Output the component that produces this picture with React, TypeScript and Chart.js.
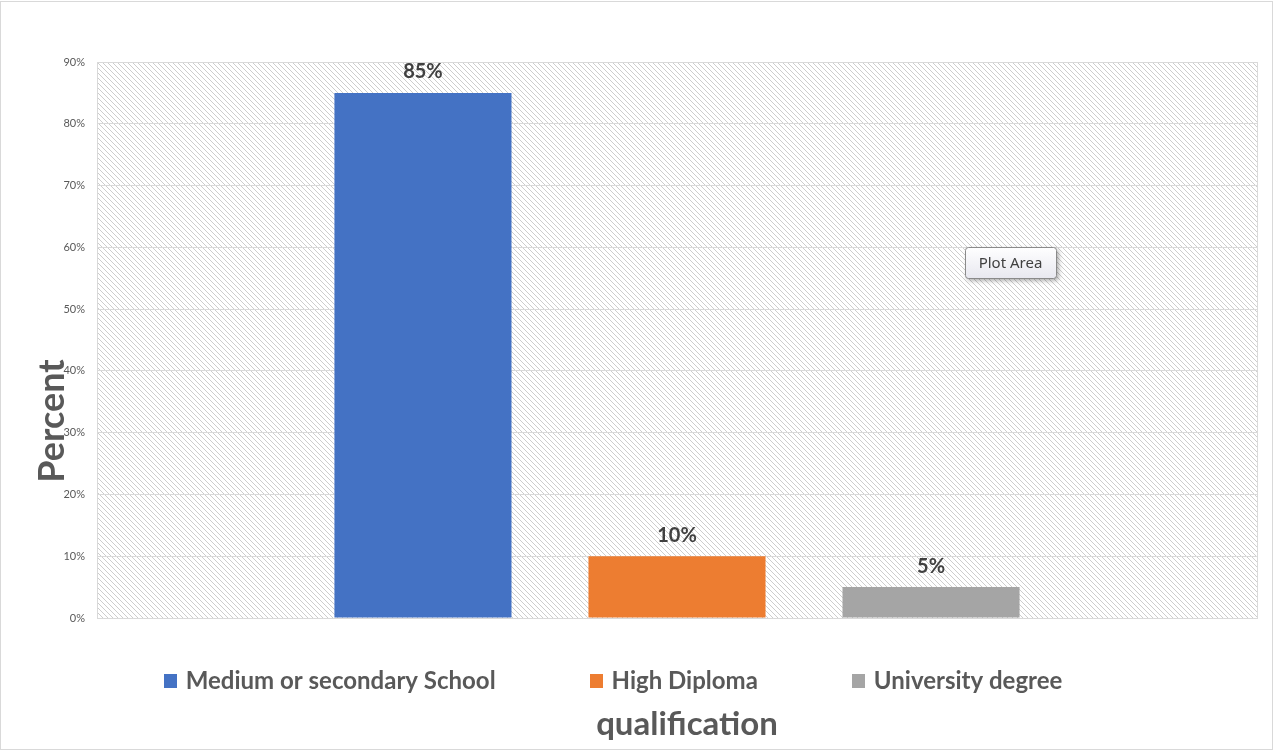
import React, { useEffect, useRef } from "react";
import { Chart, registerables } from "chart.js";

Chart.register(...registerables);

const categories: string[] = [""];
const seriesNames: string[] = ["Medium or secondary School", "High Diploma", "University degree"];
const seriesValues: number[] = [85, 10, 5];
const seriesColors: string[] = ["#4472C4", "#ED7D31", "#A5A5A5"];
const yTickValues: number[] = [0, 10, 20, 30, 40, 50, 60, 70, 80, 90];
const yTitle = "Percent";
const xTitle = "qualification";
const hoverNote = "Plot Area";

const FONT = "Lato, 'Open Sans', sans-serif";
const TEXT = "#595959";

function makeHatch(): CanvasPattern | string {
  const c = document.createElement("canvas");
  const n = 5;
  c.width = n;
  c.height = n;
  const g = c.getContext("2d");
  if (!g) return "#f0f0f0";
  g.fillStyle = "#ffffff";
  g.fillRect(0, 0, n, n);
  g.fillStyle = "#cdcdcd";
  for (let i = 0; i < n; i++) g.fillRect(i, i, 1, 1);
  const p = g.createPattern(c, "repeat");
  return p || "#f0f0f0";
}

const backgroundPlugin = {
  id: "bgHatch",
  beforeDraw(chart: any) {
    const { ctx, chartArea } = chart;
    ctx.save();
    ctx.fillStyle = "#ffffff";
    ctx.fillRect(0, 0, chart.width, chart.height);
    ctx.fillStyle = makeHatch();
    ctx.fillRect(chartArea.left, chartArea.top, chartArea.right - chartArea.left, chartArea.bottom - chartArea.top);
    ctx.restore();
  },
  afterDatasetsDraw(chart: any) {
    const { ctx, chartArea } = chart;
    ctx.save();
    ctx.strokeStyle = "#d9d9d9";
    ctx.lineWidth = 1;
    ctx.strokeRect(Math.round(chartArea.left) + 0.5, Math.round(chartArea.top) + 0.5,
      Math.round(chartArea.right - chartArea.left), Math.round(chartArea.bottom - chartArea.top));
    // data labels
    ctx.font = `bold 20px ${FONT}`;
    ctx.fillStyle = "#404040";
    ctx.textAlign = "center";
    ctx.textBaseline = "middle";
    chart.data.datasets.forEach((ds: any, i: number) => {
      const meta = chart.getDatasetMeta(i);
      meta.data.forEach((bar: any, j: number) => {
        ctx.fillText(`${ds.data[j]}%`, bar.x, bar.y - 21);
      });
    });
    ctx.restore();
  },
  afterDraw(chart: any) {
    const { ctx, chartArea } = chart;
    ctx.save();
    // outer frame
    ctx.strokeStyle = "#d9d9d9";
    ctx.lineWidth = 1;
    ctx.strokeRect(0.5, 1.5, chart.width - 2, chart.height - 4);

    // y title
    ctx.fillStyle = TEXT;
    ctx.font = `bold 36px ${FONT}`;
    ctx.textAlign = "center";
    ctx.textBaseline = "middle";
    ctx.translate(52, 421);
    ctx.rotate(-Math.PI / 2);
    ctx.fillText(yTitle, 0, 0);
    ctx.setTransform(1, 0, 0, 1, 0, 0);

    // legend
    ctx.font = `bold 24px ${FONT}`;
    ctx.textBaseline = "middle";
    ctx.textAlign = "left";
    const box = 13;
    const gapText = 9;
    const gapItem = 94;
    const widths = chart.data.datasets.map((d: any) => ctx.measureText(d.label).width);
    let total = 0;
    widths.forEach((w: number, i: number) => {
      total += box + gapText + w + (i < widths.length - 1 ? gapItem : 0);
    });
    let x = 613 - total / 2;
    const ly = 681;
    chart.data.datasets.forEach((d: any, i: number) => {
      ctx.fillStyle = d.backgroundColor;
      ctx.fillRect(Math.round(x), ly - 7, box, 14);
      ctx.fillStyle = TEXT;
      ctx.fillText(d.label, x + box + gapText, ly);
      x += box + gapText + widths[i] + gapItem;
    });

    // x title
    ctx.font = `bold 33px ${FONT}`;
    ctx.textAlign = "center";
    ctx.textBaseline = "middle";
    ctx.fillStyle = TEXT;
    ctx.fillText(xTitle, (chartArea.left + chartArea.right) / 2 + 10, 724);

    // hover note box
    const bx = 965, by = 247, bw = 91, bh = 31;
    ctx.shadowColor = "rgba(0,0,0,0.35)";
    ctx.shadowBlur = 4;
    ctx.shadowOffsetX = 2;
    ctx.shadowOffsetY = 2;
    const grad = ctx.createLinearGradient(0, by, 0, by + bh);
    grad.addColorStop(0, "#ffffff");
    grad.addColorStop(1, "#e8e8f0");
    ctx.fillStyle = grad;
    ctx.beginPath();
    ctx.roundRect(bx + 0.5, by + 0.5, bw, bh, 3);
    ctx.fill();
    ctx.shadowColor = "transparent";
    ctx.strokeStyle = "#8a8a8a";
    ctx.stroke();
    ctx.fillStyle = "#404040";
    ctx.font = `15px 'Noto Sans', sans-serif`;
    ctx.textAlign = "center";
    ctx.fillText(hoverNote, bx + bw / 2, by + bh / 2 + 1);
    ctx.restore();
  },
};

export default function App() {
  const ref = useRef<HTMLCanvasElement | null>(null);
  useEffect(() => {
    if (!ref.current) return;
    const chart = new Chart(ref.current, {
      type: "bar",
      data: {
        labels: categories,
        datasets: seriesNames.map((name, i) => ({
          label: name,
          data: [seriesValues[i]],
          backgroundColor: seriesColors[i],
          borderWidth: 0,
          categoryPercentage: 0.657,
          barPercentage: 0.697,
        })),
      },
      options: {
        animation: false,
        responsive: false,
        layout: { padding: { top: 62, left: 0, right: 17, bottom: 134 } },
        plugins: {
          legend: { display: false },
          tooltip: { enabled: false },
          title: { display: false },
        },
        scales: {
          x: { display: false },
          y: {
            min: 0,
            max: 90,
            afterFit(scale: any) {
              scale.width = 97;
            },
            afterBuildTicks(scale: any) {
              scale.ticks = yTickValues.map((v) => ({ value: v }));
            },
            ticks: {
              font: { family: FONT, size: 11 },
              color: TEXT,
              padding: 12,
              callback: (v: any) => `${v}%`,
            },
            grid: { color: "#d9d9d9", drawTicks: false, lineWidth: 1 },
            border: { display: false },
          },
        },
      },
      plugins: [backgroundPlugin],
    });
    return () => chart.destroy();
  }, []);
  return (
    <div style={{ position: "fixed", left: 0, top: 0, width: 1274, height: 752, background: "#fff" }}>
      <canvas ref={ref} width={1274} height={752} />
    </div>
  );
}
